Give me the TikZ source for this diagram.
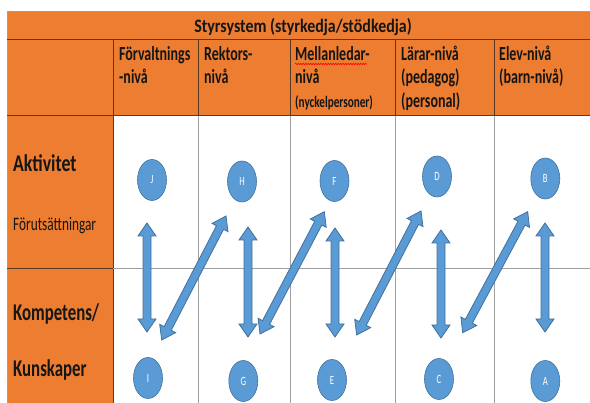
\documentclass[tikz,border=0pt]{standalone}
\usepackage{fontspec}
\setmainfont{Carlito}
\newfontfamily\nf{Carlito}[FakeStretch=0.7]
\newfontfamily\af{Carlito}[FakeStretch=0.74]
\newfontfamily\tf{Carlito}[FakeStretch=0.84]
\usetikzlibrary{calc,shapes.geometric,decorations.pathmorphing}
\definecolor{orng}{HTML}{ED7D31}
\definecolor{blu}{HTML}{5B9BD5}
\definecolor{bluedge}{HTML}{41719C}
\definecolor{gridw}{HTML}{A0A0A0}
\definecolor{grido}{HTML}{5A3A22}
\definecolor{txt}{HTML}{151515}
\def\arrHL{13pt}
\def\arrHW{9pt}
\def\arrSW{4pt}
\newcommand\dblarr[2]{%
  \path ($(#1)!\arrHL!(#2)$) coordinate (h1)
        ($(#2)!\arrHL!(#1)$) coordinate (h2);
  \filldraw[arrstyle] (#1) -- ($(h1)!\arrHW!-90:(#2)$) -- ($(h1)!\arrSW!-90:(#2)$)
    -- ($(h2)!\arrSW!90:(#1)$) -- ($(h2)!\arrHW!90:(#1)$) -- (#2)
    -- ($(h2)!\arrHW!-90:(#1)$) -- ($(h2)!\arrSW!-90:(#1)$)
    -- ($(h1)!\arrSW!90:(#2)$) -- ($(h1)!\arrHW!90:(#2)$) -- cycle;}
\tikzset{
  arrstyle/.style={fill=blu,draw=bluedge,line width=0.8pt,line join=miter},
  circ/.style={ellipse,fill=blu,draw=bluedge,line width=0.6pt,minimum width=29pt,minimum height=41pt,inner sep=0pt,text=white,font=\nf\fontsize{12.5}{12.5}\selectfont},
  hdr/.style={anchor=base west,inner sep=0pt,text=txt,font=\nf\bfseries\fontsize{20}{20}\selectfont},
  hdrs/.style={anchor=base west,inner sep=0pt,text=txt,font=\nf\bfseries\fontsize{16}{16}\selectfont},
  lbl/.style={anchor=base west,inner sep=0pt,text=txt,font=\nf\bfseries\fontsize{24}{24}\selectfont},
  gl/.style={draw=gridw,line width=1pt},
  go/.style={draw=grido,line width=1pt}
}
\begin{document}
\begin{tikzpicture}[x=1pt,y=-1pt]
\useasboundingbox (0,0) rectangle (590,403);
\begin{scope}
\clip (0,0) rectangle (590,403);
\fill[white] (0,0) rectangle (590,403);
% backgrounds
\fill[orng] (7,12) rectangle (600,116);
\fill[orng] (7,116) rectangle (113,410);
% grid
\draw[draw=gridw,line width=1pt] (7,11.5) -- (600,11.5);
\draw[draw=gridw,line width=0.8pt] (7,11.5) -- (7,410);
\draw[go] (7,40) -- (600,40);
\draw[go] (7,116) -- (600,116);
\foreach \xx in {113,198,290,395,494} \draw[go] (\xx,40) -- (\xx,116);
\draw[go] (113,116) -- (113,410);
\foreach \xx in {198,290,395,494} \draw[gl] (\xx,116) -- (\xx,410);
\draw[go] (7,269) -- (113,269);
\draw[gl] (113,269) -- (600,269);
\end{scope}
% title
\node[anchor=base,inner sep=0pt,text=txt,font=\tf\bfseries\fontsize{19}{19}\selectfont] (title) at (303,33) {Styrsystem (styrkedja/stödkedja)};
% headers
\node[hdr] (h1a) at (119,61) {Förvaltnings};
\node[hdr] (h1b) at (119,84) {-nivå};
\node[hdr] (h2a) at (204,61) {Rektors-};
\node[hdr] (h2b) at (204,84) {nivå};
\node[hdr] (h3a) at (295,61) {Mellanledar-};
\node[hdr] (h3b) at (295,84) {nivå};
\node[hdrs] (h3c) at (295,108) {(nyckelpersoner)};
\node[hdr] (h4a) at (401,61) {Lärar-nivå};
\node[hdr] (h4b) at (401,84) {(pedagog)};
\node[hdr] (h4c) at (401,108) {(personal)};
\node[hdr] (h5a) at (499,61) {Elev-nivå};
\node[hdr] (h5b) at (499,84) {(barn-nivå)};
\draw[red,line width=0.6pt,decorate,decoration={snake,amplitude=0.7pt,segment length=2.5pt}] ($(h3a.base west)+(0,3)$) -- ($(h3a.base east)+(-3,3)$);
% left labels
\node[lbl,font=\af\bfseries\fontsize{24}{24}\selectfont] (akt) at (13,172) {Aktivitet};
\node[anchor=base west,inner sep=0pt,text=txt,font=\nf\fontsize{19}{19}\selectfont] (foru) at (13,231) {Förutsättningar};
\node[lbl] (komp) at (13,321) {Kompetens/};
\node[lbl] (kuns) at (13,377) {Kunskaper};
% circles
\node[circ] (J) at (152,180) {J};
\node[circ] (H) at (242,181.5) {H};
\node[circ] (F) at (334.5,181) {F};
\node[circ] (D) at (437,176.5) {D};
\node[circ] (B) at (545.3,178.5) {B};
\node[circ] (I) at (148,378) {I};
\node[circ] (G) at (243.3,381) {G};
\node[circ] (E) at (332,380) {E};
\node[circ] (C) at (439,379) {C};
\node[circ] (A) at (545.3,381) {A};
% arrow end points
\coordinate (v1t) at (147,223); \coordinate (v1b) at (147,332);
\coordinate (v2t) at (248,227); \coordinate (v2b) at (248,337);
\coordinate (v3t) at (335,228); \coordinate (v3b) at (335,337);
\coordinate (v4t) at (441,230); \coordinate (v4b) at (441,338);
\coordinate (v5t) at (545,223); \coordinate (v5b) at (545,332);
\coordinate (d1b) at (161.7,340); \coordinate (d1t) at (226,216);
\coordinate (d2b) at (260,334);   \coordinate (d2t) at (324.3,211.7);
\coordinate (d3b) at (356.7,335); \coordinate (d3t) at (421,211);
\coordinate (d4b) at (462.7,332.7); \coordinate (d4t) at (527.7,211.7);
\dblarr{v1t}{v1b}
\dblarr{v2t}{v2b}
\dblarr{v3t}{v3b}
\dblarr{v4t}{v4b}
\dblarr{v5t}{v5b}
\dblarr{d1b}{d1t}
\dblarr{d2b}{d2t}
\dblarr{d3b}{d3t}
\dblarr{d4b}{d4t}
\end{tikzpicture}
\end{document}
